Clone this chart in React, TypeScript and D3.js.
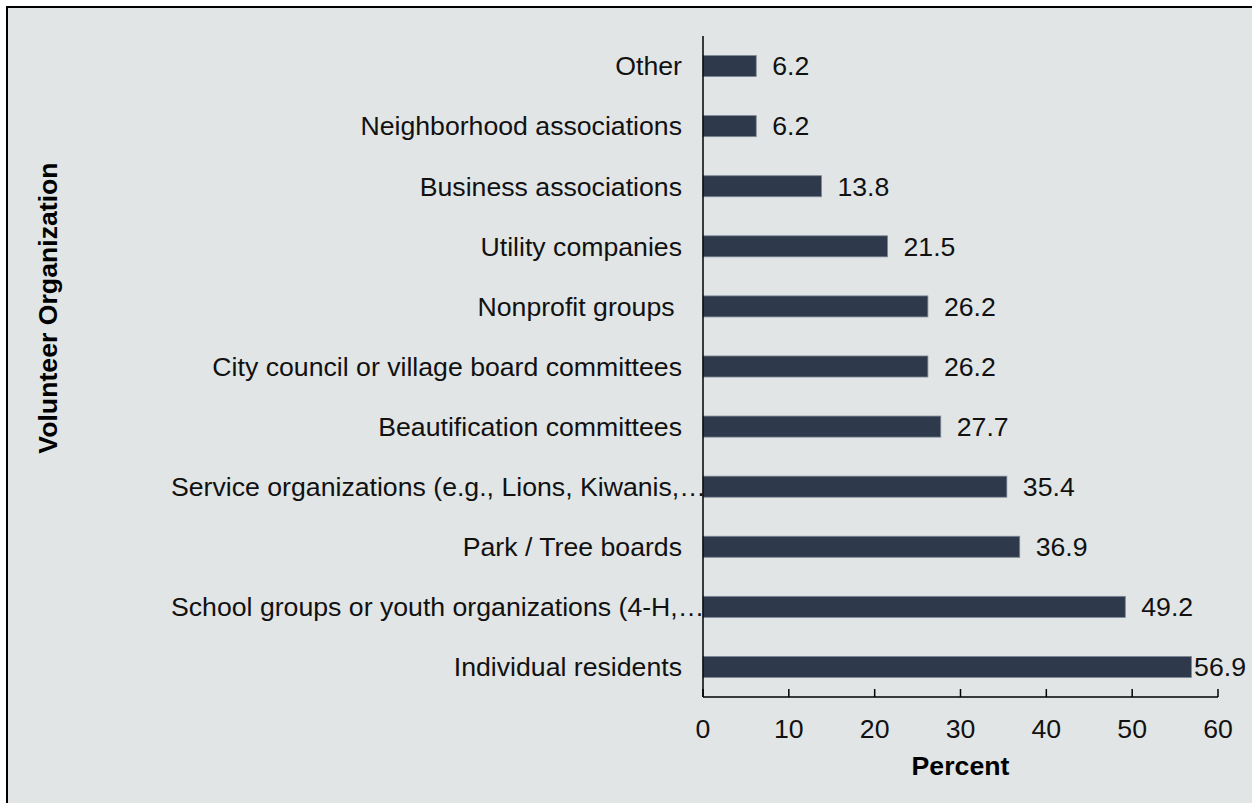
import { useMemo } from 'react';
import * as d3 from 'd3';

const categories = [
  'Other',
  'Neighborhood associations',
  'Business associations',
  'Utility companies',
  'Nonprofit groups ',
  'City council or village board committees',
  'Beautification committees',
  'Service organizations (e.g., Lions, Kiwanis,…',
  'Park / Tree boards',
  'School groups or youth organizations (4-H,…',
  'Individual residents',
];
const values = [6.2, 6.2, 13.8, 21.5, 26.2, 26.2, 27.7, 35.4, 36.9, 49.2, 56.9];
const xTicks = [0, 10, 20, 30, 40, 50, 60];

const W = 1252;
const H = 803;
const plot = { left: 703, right: 1218, top: 36, bottom: 697 };
const font = 'Arial, "Liberation Sans", Helvetica, sans-serif';
const fs = 26.67;
const bg = '#e1e5e5';
const barFill = '#2e3a4c';

export default function App() {
  const { x, y } = useMemo(() => {
    const x = d3.scaleLinear().domain([0, 60]).range([plot.left, plot.right]);
    const y = d3
      .scaleBand<string>()
      .domain(categories)
      .range([plot.top, plot.bottom])
      .paddingInner(0.65)
      .paddingOuter(0.325);
    return { x, y };
  }, []);

  const labelRight = 682;
  const truncLeft = 171;

  return (
    <svg
      width={W}
      height={H}
      style={{ position: 'absolute', left: 0, top: 0, fontFamily: font }}
    >
      <rect x={0} y={0} width={W} height={H} fill="#ffffff" />
      <rect x={7} y={7} width={W + 20} height={H + 20} fill={bg} stroke="#000" strokeWidth={2} />

      {categories.map((c, i) => {
        const cy = (y(c) ?? 0) + y.bandwidth() / 2;
        const truncated = c.endsWith('…');
        return (
          <text
            key={'l' + i}
            x={truncated ? truncLeft : labelRight}
            y={cy}
            dy="0.35em"
            textAnchor={truncated ? 'start' : 'end'}
            fontSize={fs}
            fill="#111"
            style={{ whiteSpace: 'pre' }}
          >
            {c}
          </text>
        );
      })}

      {categories.map((c, i) => (
        <rect
          key={'b' + i}
          x={x(0)}
          y={y(c)}
          width={x(values[i]) - x(0)}
          height={y.bandwidth()}
          fill={barFill}
          stroke="#7d8796"
          strokeWidth={0.8}
        />
      ))}

      {categories.map((c, i) => {
        const cy = (y(c) ?? 0) + y.bandwidth() / 2;
        const end = x(values[i]);
        const overflow = end + 16 + 46 > W - 6;
        return (
          <text
            key={'v' + i}
            x={overflow ? W - 6 : end + 16}
            y={cy}
            dy="0.35em"
            textAnchor={overflow ? 'end' : 'start'}
            fontSize={fs}
            fill="#111"
          >
            {values[i].toFixed(1)}
          </text>
        );
      })}

      <line x1={plot.left} x2={plot.left} y1={plot.top} y2={plot.bottom} stroke="#000" strokeWidth={1.5} />
      <line x1={plot.left} x2={plot.right} y1={plot.bottom} y2={plot.bottom} stroke="#000" strokeWidth={1.5} />
      {xTicks.map((t) => (
        <g key={'t' + t}>
          <line x1={x(t)} x2={x(t)} y1={plot.bottom - 8} y2={plot.bottom} stroke="#000" strokeWidth={1.5} />
          <text x={x(t)} y={738} textAnchor="middle" fontSize={fs} fill="#111">
            {t}
          </text>
        </g>
      ))}

      <text
        x={(plot.left + plot.right) / 2}
        y={775}
        textAnchor="middle"
        fontSize={fs}
        fontWeight="bold"
        fill="#000"
      >
        Percent
      </text>
      <text
        transform={`translate(57,308) rotate(-90)`}
        textAnchor="middle"
        fontSize={fs}
        fontWeight="bold"
        fill="#000"
      >
        Volunteer Organization
      </text>
    </svg>
  );
}
